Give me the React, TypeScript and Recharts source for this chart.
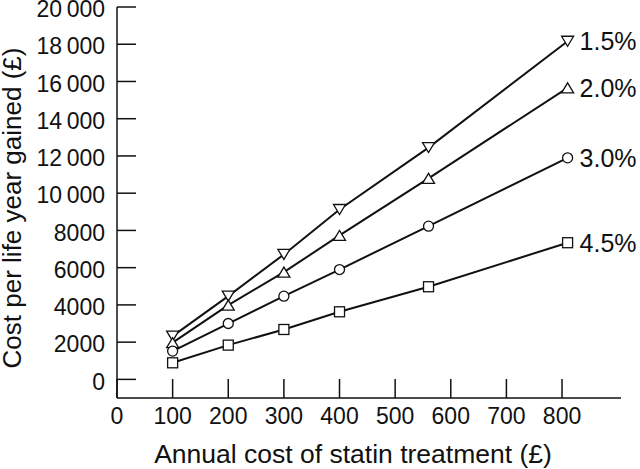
// Cost per life year gained vs annual statin cost, one line per event-risk level.

import { Line, LineChart, XAxis, YAxis } from "recharts";

const annualCost = [100, 200, 300, 400, 560, 810];
const risk15 = [2320, 4470, 6710, 9125, 12450, 18160];
const risk20 = [1970, 3990, 5760, 7730, 10800, 15660];
const risk30 = [1520, 3000, 4470, 5900, 8230, 11900];
const risk45 = [890, 1840, 2680, 3630, 4975, 7340];

const xTicks = [0, 100, 200, 300, 400, 500, 600, 700, 800];
const yTicks = [0, 2000, 4000, 6000, 8000, 10000, 12000, 14000, 16000, 18000, 20000];

const FONT = "'Liberation Sans', Arial, Helvetica, sans-serif";
const INK = "#111";

const data = annualCost.map((cost, i) => ({
  cost,
  r15: risk15[i],
  r20: risk20[i],
  r30: risk30[i],
  r45: risk45[i],
}));

// 10000 and up get a thin space as thousands separator, like the journal style.
function fmtY(v: number): string {
  const s = String(v);
  return v >= 10000 ? s.slice(0, -3) + "\u2009" + s.slice(-3) : s;
}

type Shape = "down" | "up" | "circle" | "square";

function marker(shape: Shape) {
  return (props: any) => {
    const { cx, cy, index } = props;
    const common = { fill: "#fff", stroke: INK, strokeWidth: 1.3 };
    const key = `m-${shape}-${index}`;
    if (shape === "circle") return <circle key={key} cx={cx} cy={cy} r={5} {...common} />;
    if (shape === "square")
      return <rect key={key} x={cx - 5} y={cy - 5} width={10} height={10} {...common} />;
    const h = 10;
    const w = 12;
    const pts =
      shape === "down"
        ? `${cx - w / 2},${cy - h / 2} ${cx + w / 2},${cy - h / 2} ${cx},${cy + h / 2}`
        : `${cx - w / 2},${cy + h / 2} ${cx + w / 2},${cy + h / 2} ${cx},${cy - h / 2}`;
    return <polygon key={key} points={pts} {...common} />;
  };
}

function endLabel(text: string) {
  return (props: any) => {
    if (props.index !== annualCost.length - 1) return null;
    return (
      <text
        key={`lbl-${text}`}
        x={props.x + 12}
        y={props.y}
        dy="0.36em"
        fontSize={25}
        fontFamily={FONT}
        fill={INK}
      >
        {text}
      </text>
    );
  };
}

const series: { key: string; name: string; shape: Shape }[] = [
  { key: "r15", name: "1.5%", shape: "down" },
  { key: "r20", name: "2.0%", shape: "up" },
  { key: "r30", name: "3.0%", shape: "circle" },
  { key: "r45", name: "4.5%", shape: "square" },
];

export default function App() {
  const tickStyle = { fontSize: 23, fontFamily: FONT, fill: INK };
  return (
    <div style={{ position: "absolute", left: 0, top: 0, background: "#fff" }}>
      <LineChart
        width={640}
        height={469}
        data={data}
        margin={{ top: 7, right: 19, left: 0, bottom: 11 }}
      >
        <XAxis
          type="number"
          dataKey="cost"
          domain={[0, 906]}
          ticks={xTicks}
          interval={0}
          stroke={INK}
          strokeWidth={1.5}
          tickSize={-19}
          tickMargin={29}
          tick={tickStyle}
          height={60}
          label={{
            content: ({ viewBox }: any) => (
              <text
                x={viewBox.x + 236}
                y={viewBox.y + 65}
                textAnchor="middle"
                fontSize={26.5}
                fontFamily={FONT}
                fill={INK}
              >
                Annual cost of statin treatment (£)
              </text>
            ),
          }}
        />
        <YAxis
          type="number"
          domain={[-1000, 20000]}
          ticks={yTicks}
          interval={0}
          tickFormatter={fmtY}
          stroke={INK}
          strokeWidth={1.5}
          tickSize={-19}
          tickMargin={31}
          tick={{ ...tickStyle, dy: 2 }}
          width={117}
          label={{
            content: ({ viewBox }: any) => {
              const cx = 21;
              const cy = viewBox.y + 201;
              return (
                <text
                  x={cx}
                  y={cy}
                  transform={`rotate(-90 ${cx} ${cy})`}
                  textAnchor="middle"
                  fontSize={26}
                  fontFamily={FONT}
                  fill={INK}
                >
                  Cost per life year gained (£)
                </text>
              );
            },
          }}
        />
        {series.map((s) => (
          <Line
            key={s.key}
            type="linear"
            dataKey={s.key}
            stroke={INK}
            strokeWidth={2}
            dot={marker(s.shape)}
            activeDot={false}
            label={endLabel(s.name)}
            isAnimationActive={false}
          />
        ))}
      </LineChart>
    </div>
  );
}
